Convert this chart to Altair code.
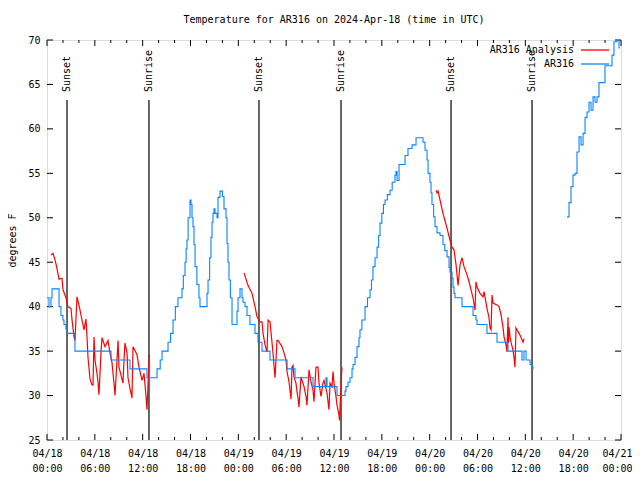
import altair as alt
import pandas as pd

BASE_MS = 1713398400000  # 2024-04-18 00:00 UTC
HOUR_MS = 3600000

# observed AR316 (hours since 04/18 00:00 UTC, deg F)
ar316_part1 = [(0.00, 41), (0.25, 40), (0.50, 41), (0.63, 42), (1.51, 40), (1.75, 39), (2.00, 38.5), (2.13, 38),
               (2.38, 37.5), (2.51, 37), (3.51, 35), (8.03, 34), (10.41, 33), (12.54, 32), (13.80, 33), (14.20, 34),
               (14.43, 35), (15.18, 36), (15.50, 37), (15.81, 38.5), (16.10, 40), (16.43, 41), (16.93, 42),
               (17.10, 43.5), (17.31, 45), (17.45, 46.5), (17.56, 47.5), (17.70, 50), (17.94, 52), (18.06, 51.5),
               (18.19, 50), (18.31, 49), (18.44, 47), (18.57, 44.5), (18.80, 42.5), (19.06, 41), (19.19, 40),
               (20.07, 41.5), (20.20, 43), (20.40, 45.5), (20.57, 47.8), (20.70, 49.5), (20.82, 50.5), (20.95, 51),
               (21.07, 50.5), (21.33, 50), (21.45, 52.3), (21.70, 53), (22.00, 52.4), (22.20, 51), (22.45, 50),
               (22.58, 47.1), (22.70, 45), (22.83, 43), (23.00, 41), (23.21, 38), (23.83, 39.5), (23.96, 41),
               (24.21, 42), (24.46, 41), (24.59, 40.5), (24.84, 40), (25.09, 39), (25.46, 38), (26.09, 37),
               (26.47, 36), (26.97, 35), (27.97, 34), (30.11, 33), (31.11, 32), (33.37, 31), (35.00, 32),
               (35.12, 31), (36.38, 30), (37.38, 30.5), (37.50, 31), (37.76, 31.5), (38.01, 32), (38.26, 33),
               (38.39, 33.5), (38.64, 34.3), (38.89, 35.5), (39.14, 36.5), (39.26, 37.4), (39.50, 38.5),
               (39.89, 40), (40.20, 41), (40.52, 41.9), (40.70, 43), (40.89, 44.5), (41.15, 45.5), (41.40, 46.7),
               (41.60, 48), (41.77, 49.4), (42.00, 50.5), (42.20, 51.5), (42.40, 52), (42.70, 52.6), (43.03, 53.1),
               (43.30, 54), (43.65, 54.8), (43.78, 55.2), (43.91, 54.2), (44.16, 56), (44.91, 57), (45.28, 57.8),
               (45.79, 58.2), (46.29, 59), (47.17, 58.5), (47.42, 57.6), (47.67, 56.5), (47.80, 55), (48.04, 54),
               (48.17, 52.8), (48.29, 51.5), (48.50, 50.1), (48.67, 49), (48.92, 48.3), (49.30, 48), (49.67, 47),
               (49.90, 46.3), (50.18, 45.6), (50.43, 44.4), (50.55, 43.9), (50.80, 43.2), (50.93, 42.2),
               (51.05, 41.5), (51.18, 41), (52.06, 40), (53.44, 39), (53.81, 38.5), (53.94, 38), (55.19, 37),
               (56.45, 36), (57.83, 35), (59.58, 34), (59.83, 35), (60.09, 34), (60.59, 33.5), (60.84, 33.2),
               (60.96, 33)]
ar316_part2 = [(65.23, 50.1), (65.48, 51.7), (65.73, 53.5), (65.98, 54.8), (66.23, 55), (66.48, 57.4), (66.74, 59.1),
               (66.99, 58.2), (67.24, 59.5), (67.49, 61.3), (67.74, 61.9), (67.99, 63), (68.24, 62.1), (68.49, 63.6),
               (68.74, 63), (68.99, 63.6), (69.24, 65.2), (69.99, 67.1), (70.87, 68.3), (71.12, 69.8), (71.50, 70),
               (71.75, 69.1), (71.85, 69.1)]

# AR316 Analysis
analysis_part1 = [(0.50, 45.8), (0.75, 46), (1.00, 45.3), (1.25, 44.3), (1.51, 43.1), (1.88, 43.2), (2.01, 41.9),
                  (2.38, 41), (2.63, 40), (3.01, 39.8), (3.14, 38.5), (3.39, 36.6), (3.51, 36.2), (3.76, 41.1),
                  (4.01, 40.2), (4.39, 38.5), (4.64, 37.4), (4.89, 38.6), (5.02, 36.6), (5.14, 34.3), (5.39, 31.9),
                  (5.64, 31.2), (5.77, 31.2), (5.90, 36.6), (6.02, 34), (6.27, 32.5), (6.40, 31.5), (6.52, 30.1),
                  (6.77, 34.8), (6.90, 36.5), (7.28, 35.5), (7.65, 36.2), (7.90, 34.8), (8.15, 33.7), (8.40, 31.4),
                  (8.53, 30), (8.78, 34), (8.91, 36.2), (9.03, 33.2), (9.28, 32.3), (9.53, 31.4), (9.66, 34),
                  (9.78, 35.9), (10.04, 34.8), (10.16, 32), (10.41, 30.8), (10.66, 29.7), (10.79, 35.5),
                  (11.29, 34.6), (11.54, 33.2), (11.92, 31.7), (12.17, 32.5), (12.42, 29.9), (12.54, 28.4),
                  (12.79, 33.8), (12.86, 34.6)]
analysis_part2 = [(24.71, 43.8), (25.21, 42.4), (25.72, 41.5), (26.09, 40), (26.34, 38.9), (26.72, 38.3),
                  (26.97, 38.3), (27.10, 37), (27.35, 35.7), (27.60, 34.9), (27.73, 38.5), (27.97, 38.3),
                  (28.22, 36), (28.35, 34.8), (28.47, 33.4), (28.60, 32), (28.85, 36.2), (28.98, 36.2),
                  (29.48, 35.5), (29.73, 34.8), (29.98, 34), (30.11, 32.7), (30.36, 31.5), (30.48, 30.6),
                  (30.61, 29.6), (30.73, 33.2), (30.86, 33.4), (30.98, 32.1), (31.23, 31.4), (31.36, 30.4),
                  (31.49, 29.7), (31.61, 28.7), (31.86, 32.1), (31.99, 31.7), (32.24, 31), (32.49, 29.9),
                  (32.61, 28.9), (32.87, 32.9), (33.12, 31.5), (33.37, 30.6), (33.49, 29.3), (33.74, 33.2),
                  (33.99, 33.2), (34.12, 31.4), (34.37, 29.9), (34.62, 31.4), (34.75, 31.7), (35.12, 30.3),
                  (35.37, 28.4), (35.50, 31.4), (35.75, 31), (35.88, 32.7), (36.00, 31.4), (36.25, 29.9),
                  (36.38, 28.9), (36.63, 27.8), (36.69, 27.2), (36.88, 31.4), (37.00, 33.2)]
analysis_part3 = [(48.80, 53.1), (48.92, 52.8), (49.05, 53), (49.30, 52), (49.67, 50.5), (50.18, 48.8),
                  (50.55, 47.5), (50.80, 46.7), (51.05, 46.4), (51.31, 44.7), (51.56, 42.4), (51.81, 44.7),
                  (52.06, 45.5), (52.31, 44.5), (52.68, 43.6), (52.94, 42.8), (53.19, 41.9), (53.44, 41),
                  (53.69, 39.6), (53.81, 42.8), (53.94, 42.2), (54.32, 41.5), (54.69, 41.1), (54.82, 41.7),
                  (54.94, 41.1), (55.19, 39.8), (55.44, 38.8), (55.57, 37.6), (55.70, 37.4), (55.82, 41.3),
                  (55.95, 40.4), (56.45, 40.2), (56.70, 40), (56.95, 39.1), (57.20, 37.7), (57.33, 36.6),
                  (57.58, 35.7), (57.70, 34.9), (57.83, 38.8), (57.89, 35.9), (57.95, 37.7), (58.08, 36.6),
                  (58.20, 36), (58.45, 35.1), (58.58, 34.3), (58.70, 33.2), (58.83, 37.6), (58.96, 37.4),
                  (59.33, 36.8), (59.71, 36), (59.83, 36.4)]

sun_hours = [2.51, 12.79, 26.59, 36.88, 50.68, 60.84]
sun_labels = ["Sunset", "Sunrise", "Sunset", "Sunrise", "Sunset", "Sunrise"]

y_ticks = [25, 30, 35, 40, 45, 50, 55, 60, 65, 70]
x_major_hours = [0, 6, 12, 18, 24, 30, 36, 42, 48, 54, 60, 66, 72]
x_minor_hours = [2, 4, 8, 10, 14, 16, 20, 22, 26, 28, 32, 34, 38, 40, 44, 46, 50, 52, 56, 58, 62, 64, 68, 70]

series_names = ["AR316 Analysis", "AR316"]
series_colors = ["#ff0000", "#0a84ff"]

FONT = "DejaVu Sans Mono"
W, H = 574, 400


def to_ms(h):
    return BASE_MS + h * HOUR_MS


def frame(parts):
    rows = []
    for i, part in enumerate(parts):
        for h, t in part:
            rows.append({"t": to_ms(h), "temp": t, "seg": i})
    return pd.DataFrame(rows)


obs_df = frame([ar316_part1, ar316_part2])
ana_df = frame([analysis_part1, analysis_part2, analysis_part3])
sun_df = pd.DataFrame({"t": [to_ms(h) for h in sun_hours], "label": sun_labels})
ytick_df = pd.DataFrame({"temp": y_ticks})
xmaj_df = pd.DataFrame({"t": [to_ms(h) for h in x_major_hours]})
xmin_df = pd.DataFrame({"t": [to_ms(h) for h in x_minor_hours]})

last_tick = to_ms(x_major_hours[-1])
x_enc = alt.X(
    "t:T",
    scale=alt.Scale(type="utc", domain=[to_ms(0), to_ms(72)]),
    axis=alt.Axis(
        values=[to_ms(h) for h in x_major_hours],
        labelExpr="[utcFormat(datum.value, '%m/%d'), utcFormat(datum.value, '%H:%M')]",
        title=None, ticks=False, domain=False, grid=False,
        labelFont=FONT, labelFontSize=10, labelColor="black",
        labelPadding=8, labelLineHeight=15, labelBaseline="top",
        labelFlush=False, labelOverlap=False,
        labelOffset=alt.ExprRef(f"datum.value >= {last_tick} ? -4 : 0"),
    ),
)
y_enc = alt.Y(
    "temp:Q",
    scale=alt.Scale(domain=[25, 70], nice=False, zero=False),
    axis=alt.Axis(
        values=y_ticks, title="degrees F", ticks=False, domain=False, grid=False,
        labelFont=FONT, labelFontSize=10, labelColor="black", labelPadding=7,
        titleFont=FONT, titleFontSize=10, titleFontWeight="normal", titleColor="black",
        titlePadding=10,
    ),
)

obs_line = alt.Chart(obs_df).mark_line(interpolate="step-after", color=series_colors[1],
                                       strokeWidth=1.1, clip=True).encode(
    x=x_enc, y=y_enc, detail="seg:N")
ana_line = alt.Chart(ana_df).mark_line(color=series_colors[0], strokeWidth=1.2, clip=True).encode(
    x=x_enc, y=y_enc, detail="seg:N")

sun_rule = alt.Chart(sun_df).mark_rule(color="black", strokeWidth=1.2).encode(
    x=x_enc, y=alt.value(H), y2=alt.value(60))
sun_text = alt.Chart(sun_df).mark_text(angle=270, align="left", baseline="middle", font=FONT,
                                       fontSize=10, color="black", dx=0).encode(
    x=x_enc, y=alt.value(52), text="label:N")

ytick_l = alt.Chart(ytick_df).mark_rule(color="black").encode(y=y_enc, x=alt.value(0), x2=alt.value(6))
ytick_r = alt.Chart(ytick_df).mark_rule(color="black").encode(y=y_enc, x=alt.value(W), x2=alt.value(W - 6))
xmaj_b = alt.Chart(xmaj_df).mark_rule(color="black").encode(x=x_enc, y=alt.value(H), y2=alt.value(H - 6))
xmaj_t = alt.Chart(xmaj_df).mark_rule(color="black").encode(x=x_enc, y=alt.value(0), y2=alt.value(6))
xmin_b = alt.Chart(xmin_df).mark_rule(color="black").encode(x=x_enc, y=alt.value(H), y2=alt.value(H - 3))
xmin_t = alt.Chart(xmin_df).mark_rule(color="black").encode(x=x_enc, y=alt.value(0), y2=alt.value(3))

legend_layers = []
for i, (name, col) in enumerate(zip(series_names, series_colors)):
    ldf = pd.DataFrame({"name": [name]})
    ly = 10 + 14 * i
    legend_layers.append(alt.Chart(ldf).mark_text(align="right", baseline="middle", font=FONT, fontSize=10,
                                                  color="black").encode(
        x=alt.value(527), y=alt.value(ly), text="name:N"))
    legend_layers.append(alt.Chart(ldf).mark_rule(color=col, strokeWidth=1.3).encode(
        x=alt.value(534), x2=alt.value(562), y=alt.value(ly)))

chart = alt.layer(
    xmin_b, xmin_t, xmaj_b, xmaj_t, ytick_l, ytick_r,
    sun_rule, sun_text, ana_line, obs_line, *legend_layers,
).properties(
    width=W, height=H,
    title=alt.TitleParams("Temperature for AR316 on 2024-Apr-18 (time in UTC)", font=FONT, fontSize=10,
                          fontWeight="normal", color="black", anchor="middle", offset=10),
    padding={"left": 39, "top": 32, "right": 11, "bottom": 32},
    autosize=alt.AutoSizeParams(type="none"),
).configure_view(stroke="black", strokeWidth=1).configure(background="white")

chart.save("out.html", embed_options={"renderer": "svg", "actions": False})
